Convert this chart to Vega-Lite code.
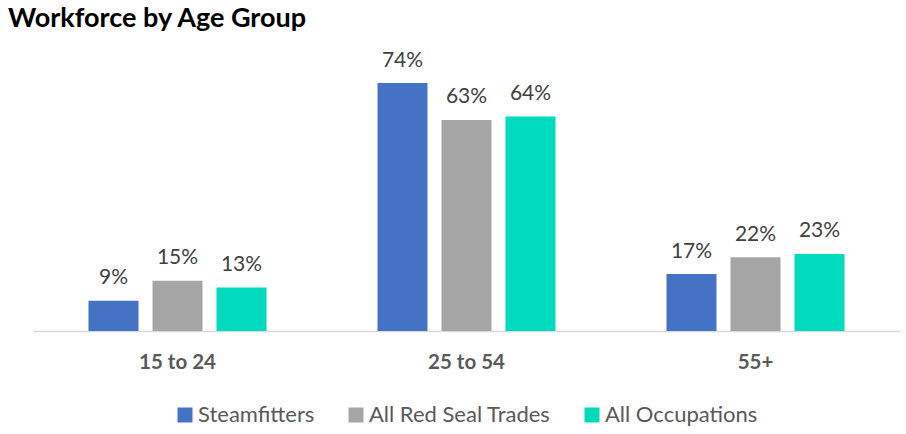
{
  "$schema": "https://vega.github.io/schema/vega-lite/v6.json",
  "width": 867,
  "height": 268,
  "autosize": {"type": "none"},
  "padding": {"left": 33, "top": 63, "right": 6, "bottom": 103},
  "background": "white",
  "title": {
    "text": "Workforce by Age Group",
    "anchor": "start",
    "frame": "group",
    "dx": -25,
    "offset": 17,
    "font": "Lato",
    "fontSize": 27,
    "fontWeight": "bold",
    "color": "#000000"
  },
  "data": {
    "values": [
      {"age": "15 to 24", "group": "Steamfitters", "value": 0.09},
      {"age": "15 to 24", "group": "All Red Seal Trades", "value": 0.15},
      {"age": "15 to 24", "group": "All Occupations", "value": 0.13},
      {"age": "25 to 54", "group": "Steamfitters", "value": 0.74},
      {"age": "25 to 54", "group": "All Red Seal Trades", "value": 0.63},
      {"age": "25 to 54", "group": "All Occupations", "value": 0.64},
      {"age": "55+", "group": "Steamfitters", "value": 0.17},
      {"age": "55+", "group": "All Red Seal Trades", "value": 0.22},
      {"age": "55+", "group": "All Occupations", "value": 0.23}
    ]
  },
  "encoding": {
    "x": {
      "field": "age",
      "type": "nominal",
      "sort": ["15 to 24", "25 to 54", "55+"],
      "scale": {"paddingInner": 0, "paddingOuter": 0},
      "axis": {
        "title": null,
        "labelAngle": 0,
        "labelFont": "Lato",
        "labelFontSize": 20.5,
        "labelFontWeight": "bold",
        "labelColor": "#595959",
        "labelPadding": 21,
        "ticks": false,
        "domainColor": "#D9D9D9",
        "domainWidth": 1.5
      }
    },
    "xOffset": {
      "field": "group",
      "type": "nominal",
      "sort": ["Steamfitters", "All Red Seal Trades", "All Occupations"],
      "scale": {"paddingInner": 0.219, "paddingOuter": 0.867}
    },
    "y": {
      "field": "value",
      "type": "quantitative",
      "scale": {"domain": [0, 0.8]},
      "axis": null
    }
  },
  "layer": [
    {
      "mark": {"type": "bar"},
      "encoding": {
        "color": {
          "field": "group",
          "type": "nominal",
          "sort": ["Steamfitters", "All Red Seal Trades", "All Occupations"],
          "scale": {
            "domain": ["Steamfitters", "All Red Seal Trades", "All Occupations"],
            "range": ["#4472C4", "#A5A5A5", "#00DBBE"]
          },
          "legend": {
            "title": null,
            "orient": "none",
            "direction": "horizontal",
            "legendX": 141,
            "legendY": 341,
            "symbolType": "square",
            "symbolSize": 225,
            "symbolStrokeWidth": 0,
            "labelFont": "Lato",
            "labelFontSize": 22,
            "labelColor": "#595959",
            "labelOffset": 2,
            "labelLimit": 400,
            "columnPadding": 30
          }
        }
      }
    },
    {
      "mark": {
        "type": "text",
        "baseline": "bottom",
        "dy": -12.5,
        "font": "Lato",
        "fontSize": 21,
        "color": "#404040"
      },
      "encoding": {
        "text": {"field": "value", "type": "quantitative", "format": ".0%"},
        "detail": {"field": "group"}
      }
    }
  ],
  "config": {"view": {"stroke": null}}
}
